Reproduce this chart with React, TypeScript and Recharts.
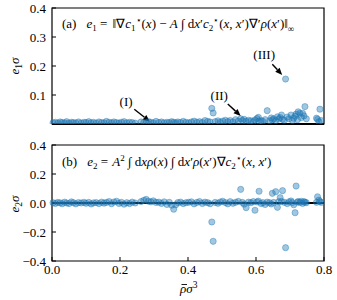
import {
  ScatterChart,
  Scatter,
  XAxis,
  YAxis,
  ReferenceLine,
  ReferenceArea,
  ReferenceDot,
} from "recharts";

// density values shared by both panels
const rho = [
  0.003, 0.01, 0.017, 0.024, 0.03, 0.037, 0.043, 0.05, 0.057, 0.063, 0.07,
  0.078, 0.086, 0.094, 0.1, 0.108, 0.115, 0.122, 0.13, 0.138, 0.146, 0.153,
  0.16, 0.168, 0.175, 0.182, 0.19, 0.197, 0.204, 0.212, 0.22, 0.228, 0.236,
  0.245, 0.262, 0.27, 0.277, 0.284, 0.291, 0.298, 0.306, 0.314, 0.322, 0.33,
  0.338, 0.345, 0.352, 0.358, 0.364, 0.37, 0.378, 0.386, 0.394, 0.402, 0.41,
  0.418, 0.426, 0.434, 0.442, 0.45, 0.458, 0.465, 0.47, 0.474, 0.48, 0.488,
  0.495, 0.502, 0.51, 0.517, 0.524, 0.532, 0.54, 0.548, 0.555, 0.56, 0.565,
  0.571, 0.578, 0.585, 0.592, 0.597, 0.603, 0.607, 0.609, 0.615, 0.62, 0.627,
  0.633, 0.64, 0.645, 0.648, 0.652, 0.658, 0.663, 0.667, 0.671, 0.675, 0.678,
  0.683, 0.687, 0.692, 0.697, 0.703, 0.707, 0.711, 0.715, 0.718, 0.722, 0.724,
  0.729, 0.733, 0.737, 0.741, 0.744, 0.748, 0.778, 0.781, 0.785, 0.788, 0.792,
];

const e1 = [
  0.004, 0.006, 0.003, 0.007, 0.005, 0.004, 0.008, 0.003, 0.006, 0.005, 0.004,
  0.007, 0.003, 0.006, 0.005, 0.008, 0.004, 0.006, 0.003, 0.007, 0.005, 0.004,
  0.009, 0.006, 0.004, 0.007, 0.005, 0.003, 0.006, 0.008, 0.004, 0.006, 0.005,
  0.003, 0.007, 0.005, 0.004, 0.008, 0.006, 0.004, 0.009, 0.005, 0.007, 0.004,
  0.006, 0.005, 0.008, 0.006, 0.004, 0.007, 0.005, 0.009, 0.006, 0.004, 0.007,
  0.01, 0.006, 0.008, 0.005, 0.012, 0.009, 0.007, 0.054, 0.038, 0.008, 0.011,
  0.006, 0.01, 0.013, 0.008, 0.012, 0.007, 0.015, 0.01, 0.018, 0.012, 0.016,
  0.009, 0.013, 0.011, 0.008, 0.014, 0.019, 0.023, 0.01, 0.012, 0.009, 0.015,
  0.046, 0.011, 0.021, 0.014, 0.018, 0.012, 0.025, 0.017, 0.022, 0.031, 0.016,
  0.013, 0.155, 0.024, 0.018, 0.031, 0.012, 0.02, 0.027, 0.034, 0.015, 0.042,
  0.037, 0.022, 0.037, 0.028, 0.06, 0.018, 0.02, 0.016, 0.008, 0.051, 0.012,
];

const e2 = [
  0.002, -0.003, 0.004, 0.001, -0.005, 0.006, 0.0, -0.004, 0.008, 0.002,
  -0.006, 0.003, 0.0, 0.005, -0.002, 0.004, -0.007, 0.001, 0.003, -0.004,
  0.006, -0.001, 0.004, 0.01, -0.005, 0.007, 0.012, -0.003, 0.005, -0.008,
  0.002, -0.004, 0.006, 0.0, 0.01, 0.018, 0.025, 0.012, 0.008, 0.015, 0.004,
  0.006, -0.003, 0.008, -0.01, 0.005, -0.015, -0.043, -0.012, 0.003, 0.006,
  -0.004, 0.002, 0.005, 0.008, -0.006, 0.004, 0.01, -0.003, 0.006, 0.002,
  -0.005, -0.131, -0.264, 0.004, -0.002, 0.007, 0.012, 0.003, -0.006, 0.009,
  -0.002, 0.005, 0.011, 0.094, 0.004, -0.008, -0.032, 0.006, 0.002, 0.01,
  -0.05, 0.007, 0.013, 0.081, -0.004, 0.003, -0.01, 0.006, 0.002, -0.007,
  0.067, 0.004, 0.078, -0.03, 0.009, 0.037, 0.011, 0.085, 0.005, -0.308,
  -0.004, 0.008, 0.014, 0.003, -0.012, -0.067, 0.117, 0.006, 0.01, 0.004,
  0.012, -0.003, 0.009, 0.006, 0.002, 0.005, 0.043, 0.02, 0.01, 0.004,
];

const rhoTicks = [0, 0.2, 0.4, 0.6, 0.8];
const e1Ticks = [0, 0.1, 0.2, 0.3, 0.4];
const e2Ticks = [-0.4, -0.2, 0, 0.2, 0.4];

// annotations on panel (a): label position, arrow tail and tip
const notes = [
  { label: "(I)", tx: 0.218, ty: 0.077, x1: 0.242, y1: 0.051, x2: 0.288, y2: 0.008 },
  { label: "(II)", tx: 0.492, ty: 0.1, x1: 0.517, y1: 0.069, x2: 0.555, y2: 0.028 },
  { label: "(III)", tx: 0.624, ty: 0.241, x1: 0.648, y1: 0.206, x2: 0.677, y2: 0.169 },
];

const FONT = "Liberation Serif, Times New Roman, serif";
const BLUE = "#1f77b4";
const W = 337;

const fmt = (v: number) => (v < 0 ? "\u2212" : "") + Math.abs(v).toFixed(1);

const Dot = (p: any) => (
  <circle
    cx={p.cx}
    cy={p.cy}
    r={3.1}
    fill={BLUE}
    fillOpacity={0.42}
    stroke={BLUE}
    strokeOpacity={0.5}
    strokeWidth={0.8}
  />
);

const Arrow = (p: any) => {
  const { x1, y1, x2, y2 } = p;
  const a = Math.atan2(y2 - y1, x2 - x1);
  const L = 7;
  const hw = 3;
  const bx = x2 - L * Math.cos(a);
  const by = y2 - L * Math.sin(a);
  const px = -Math.sin(a) * hw;
  const py = Math.cos(a) * hw;
  return (
    <g>
      <line x1={x1} y1={y1} x2={bx} y2={by} stroke="#000" strokeWidth={1.4} />
      <polygon
        points={`${x2},${y2} ${bx + px},${by + py} ${bx - px},${by - py}`}
        fill="#000"
      />
    </g>
  );
};

type Seg = { t: string; i?: boolean; lv?: number; s?: number; dx?: number };

// renders a row of math-ish text with sub/superscripts as tspans
const MathText = ({ x, y, size, segs }: { x: number; y: number; size: number; segs: Seg[] }) => {
  let cur = 0;
  return (
    <text x={x} y={y} fontFamily={FONT} fontSize={size} fill="#000">
      {segs.map((s, k) => {
        const lv = s.lv || 0;
        const dy = lv - cur;
        cur = lv;
        return (
          <tspan
            key={k}
            dy={dy || undefined}
            dx={s.dx}
            fontStyle={s.i ? "italic" : undefined}
            fontSize={s.s}
          >
            {s.t}
          </tspan>
        );
      })}
    </text>
  );
};

const titleA: Seg[] = [
  { t: "(a)" },
  { t: "e", i: true, dx: 10 },
  { t: "1", lv: 3, s: 9 },
  { t: " = " },
  { t: "\u2016\u2207", dx: 2 },
  { t: "c", i: true },
  { t: "1", lv: 3, s: 9 },
  { t: "\u22c6", lv: -5, s: 9 },
  { t: "(" },
  { t: "x", i: true },
  { t: ")  \u2212  " },
  { t: "A", i: true },
  { t: " \u222b d" },
  { t: "x", i: true },
  { t: "\u2032" },
  { t: "c", i: true },
  { t: "2", lv: 3, s: 9 },
  { t: "\u22c6", lv: -5, s: 9 },
  { t: "(" },
  { t: "x", i: true },
  { t: ", " },
  { t: "x", i: true },
  { t: "\u2032)\u2207\u2032" },
  { t: "\u03c1", i: true },
  { t: "(" },
  { t: "x", i: true },
  { t: "\u2032)\u2016" },
  { t: "\u221e", lv: 3.5, s: 9 },
];

const titleB: Seg[] = [
  { t: "(b)" },
  { t: "e", i: true, dx: 10 },
  { t: "2", lv: 3, s: 9 },
  { t: " = " },
  { t: "A", i: true, dx: 1 },
  { t: "2", lv: -5, s: 9 },
  { t: "  \u222b d" },
  { t: "x\u03c1", i: true },
  { t: "(" },
  { t: "x", i: true },
  { t: ")  \u222b d" },
  { t: "x", i: true },
  { t: "\u2032" },
  { t: "\u03c1", i: true },
  { t: "(" },
  { t: "x", i: true },
  { t: "\u2032)\u2207" },
  { t: "c", i: true },
  { t: "2", lv: 3, s: 9 },
  { t: "\u22c6", lv: -5, s: 9 },
  { t: "(" },
  { t: "x", i: true },
  { t: ", " },
  { t: "x", i: true },
  { t: "\u2032)" },
];

const tickStyle = { fontFamily: FONT, fontSize: 13, fill: "#000" };

export default function App() {
  const dataA = rho.map((r, i) => ({ rho: r, e: e1[i] }));
  const dataB = rho.map((r, i) => ({ rho: r, e: e2[i] }));

  return (
    <div style={{ position: "absolute", left: 0, top: 0, width: W, height: 300, background: "#fff" }}>
      <div style={{ position: "absolute", left: 0, top: 0 }}>
        <ScatterChart width={W} height={130} margin={{ top: 8, right: 13, bottom: 6, left: 0 }}>
          <XAxis
            type="number"
            dataKey="rho"
            domain={[0, 0.8]}
            ticks={rhoTicks}
            height={0}
            axisLine={false}
            tickSize={-4}
            tickLine={{ stroke: "#000" }}
            tickFormatter={() => ""}
          />
          <YAxis
            type="number"
            dataKey="e"
            domain={[0, 0.4]}
            ticks={e1Ticks}
            width={52}
            allowDataOverflow
            axisLine={false}
            tickSize={-4}
            tickMargin={10}
            tickLine={{ stroke: "#000" }}
            tick={tickStyle}
            tickFormatter={fmt}
          />
          <Scatter data={dataA} shape={Dot} isAnimationActive={false} />
          <ReferenceLine y={0} stroke="#000" strokeWidth={2} />
          <ReferenceArea x1={0} x2={0.8} y1={0} y2={0.4} fill="none" stroke="#000" strokeWidth={1.2} />
          {notes.map((n) => (
            <ReferenceLine
              key={n.label}
              segment={[
                { x: n.x1, y: n.y1 },
                { x: n.x2, y: n.y2 },
              ]}
              shape={Arrow}
            />
          ))}
          {notes.map((n) => (
            <ReferenceDot
              key={"t" + n.label}
              x={n.tx}
              y={n.ty}
              r={0}
              stroke="none"
              label={{ value: n.label, position: "center", fill: "#000", fontFamily: FONT, fontSize: 13 }}
            />
          ))}
        </ScatterChart>
      </div>
      <div style={{ position: "absolute", left: 0, top: 137 }}>
        <ScatterChart width={W} height={163} margin={{ top: 8, right: 13, bottom: 9, left: 0 }}>
          <XAxis
            type="number"
            dataKey="rho"
            domain={[0, 0.8]}
            ticks={rhoTicks}
            height={30}
            axisLine={false}
            tickSize={-4}
            tickMargin={8}
            tickLine={{ stroke: "#000" }}
            tick={tickStyle}
            tickFormatter={fmt}
          />
          <YAxis
            type="number"
            dataKey="e"
            domain={[-0.4, 0.4]}
            ticks={e2Ticks}
            width={52}
            allowDataOverflow
            axisLine={false}
            tickSize={-4}
            tickMargin={10}
            tickLine={{ stroke: "#000" }}
            tick={tickStyle}
            tickFormatter={fmt}
          />
          <Scatter data={dataB} shape={Dot} isAnimationActive={false} />
          <ReferenceLine y={0} stroke="#000" strokeWidth={2} />
          <ReferenceArea x1={0} x2={0.8} y1={-0.4} y2={0.4} fill="none" stroke="#000" strokeWidth={1.2} />
        </ScatterChart>
      </div>
      <svg
        width={W}
        height={300}
        style={{ position: "absolute", left: 0, top: 0, pointerEvents: "none" }}
      >
        <MathText x={62} y={28} size={13} segs={titleA} />
        <MathText x={62} y={166} size={13} segs={titleB} />
        <g transform="translate(19,66) rotate(-90)">
          <text textAnchor="middle" fontFamily={FONT} fontSize={13}>
            <tspan fontStyle="italic">e</tspan>
            <tspan fontSize={9.5} dy={3}>1</tspan>
            <tspan fontStyle="italic" dy={-3}>{"\u03c3"}</tspan>
          </text>
        </g>
        <g transform="translate(19,204) rotate(-90)">
          <text textAnchor="middle" fontFamily={FONT} fontSize={13}>
            <tspan fontStyle="italic">e</tspan>
            <tspan fontSize={9.5} dy={3}>2</tspan>
            <tspan fontStyle="italic" dy={-3}>{"\u03c3"}</tspan>
          </text>
        </g>
        <text x={180} y={293} fontFamily={FONT} fontSize={13}>
          <tspan fontStyle="italic">{"\u03c1\u03c3"}</tspan>
          <tspan fontSize={9.5} dy={-5}>3</tspan>
        </text>
        <line x1={181.5} y1={284.5} x2={187} y2={284.5} stroke="#000" strokeWidth={0.9} />
      </svg>
    </div>
  );
}
